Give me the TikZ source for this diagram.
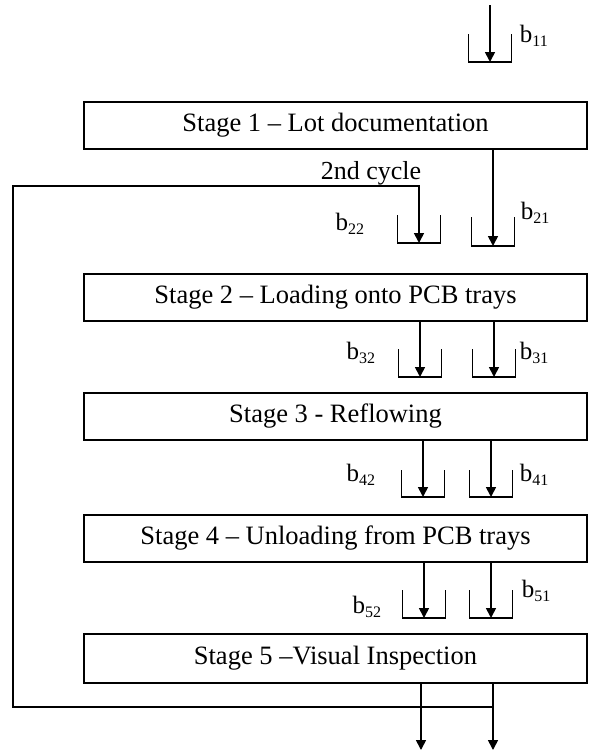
\documentclass[tikz,border=0pt]{standalone}
\usepackage{fontspec}
\setmainfont{Liberation Serif}
\usetikzlibrary{arrows.meta}
% buffer label: b with a lowered index
\newcommand{\bsub}[1]{b\raisebox{-0.16em}{\fontsize{16}{16}\selectfont #1}}

\begin{document}
\begin{tikzpicture}[x=1pt,y=-1pt,line width=1.7pt,
  stagebox/.style={draw,rectangle,line width=1.9pt,inner sep=0pt,
    minimum width=503pt,font=\fontsize{26.5}{30}\selectfont},
  flow/.style={-{Triangle[length=10pt,width=10pt]}},
  lbl/.style={font=\fontsize{25}{29}\selectfont,inner sep=0pt},
  pics/bin/.style={code={\draw[line width=1.7pt] (-21.5,-#1) -- (-21.5,0) -- (21.5,0) -- (21.5,-#1);}}]
\useasboundingbox (0,0) rectangle (589,753);

% stages
\node[stagebox,minimum height=47pt] (s1) at (335.5,125.5) {Stage 1 – Lot documentation};
\node[stagebox,minimum height=47pt] (s2) at (335.5,297.5) {Stage 2 – Loading onto PCB trays};
\node[stagebox,minimum height=47pt] (s3) at (335.5,416.5) {Stage 3 - Reflowing};
\node[stagebox,minimum height=47pt] (s4) at (335.5,538.5) {Stage 4 – Unloading from PCB trays};
\node[stagebox,minimum height=49pt] (s5) at (335.5,658.5) {Stage 5 –Visual Inspection};

% buffer bottoms
\coordinate (in11) at (490,5);
\coordinate (b11) at (490,62);
\coordinate (b22) at (419,243);
\coordinate (b21) at (493,246);
\coordinate (b32) at (420,377);
\coordinate (b31) at (494,377);
\coordinate (b42) at (423,497);
\coordinate (b41) at (491,497);
\coordinate (b52) at (424,618);
\coordinate (b51) at (491,618);
\coordinate (out2) at (421,750);
\coordinate (out1) at (493,750);
\coordinate (join) at (493,707);
\coordinate (corner) at (13,186);

\pic at (b11) {bin=28};
\pic at (b22) {bin=28};
\pic at (b21) {bin=29};
\pic at (b32) {bin=28};
\pic at (b31) {bin=28};
\pic at (b42) {bin=27};
\pic at (b41) {bin=27};
\pic at (b52) {bin=28};
\pic at (b51) {bin=28};

% flows
\draw[flow] (in11) -- (b11);
\draw[flow] (s1.south -| b21) -- (b21);
\draw[flow] (join) -| (corner) -| (b22);
\draw[flow] (s2.south -| b32) -- (b32);
\draw[flow] (s2.south -| b31) -- (b31);
\draw[flow] (s3.south -| b42) -- (b42);
\draw[flow] (s3.south -| b41) -- (b41);
\draw[flow] (s4.south -| b52) -- (b52);
\draw[flow] (s4.south -| b51) -- (b51);
\draw[flow] (s5.south -| out2) -- (out2);
\draw[flow] (s5.south -| out1) -- (out1);

% labels
\node[lbl,anchor=base west] (l11) at (519,42) {\bsub{11}};
\node[lbl,anchor=base east,font=\fontsize{26}{30}\selectfont] (cyc) at (422,179) {2nd cycle};
\node[lbl,anchor=base east] (l22) at (365,230) {\bsub{22}};
\node[lbl,anchor=base west] (l21) at (520,219) {\bsub{21}};
\node[lbl,anchor=base east] (l32) at (376,359) {\bsub{32}};
\node[lbl,anchor=base west] (l31) at (519,359) {\bsub{31}};
\node[lbl,anchor=base east] (l42) at (376,481) {\bsub{42}};
\node[lbl,anchor=base west] (l41) at (519,481) {\bsub{41}};
\node[lbl,anchor=base east] (l52) at (382,613) {\bsub{52}};
\node[lbl,anchor=base west] (l51) at (521,597) {\bsub{51}};
\end{tikzpicture}
\end{document}
